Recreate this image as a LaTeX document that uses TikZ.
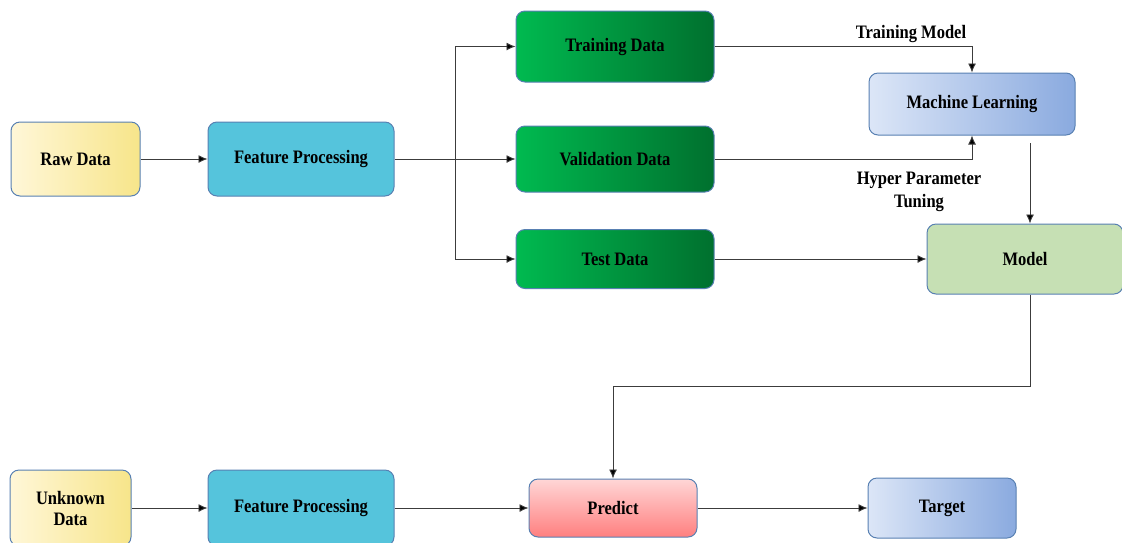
\documentclass[tikz,border=0pt]{standalone}
\usepackage{fontspec}
\setmainfont{Liberation Serif}[FakeStretch=0.87]
\usepackage{xcolor}
\usetikzlibrary{arrows.meta}

\definecolor{edgeblue}{RGB}{88,128,178}
\definecolor{linegray}{RGB}{60,60,60}
\definecolor{rawlight}{RGB}{255,247,216}
\definecolor{rawdark}{RGB}{247,229,138}
\definecolor{featcyan}{RGB}{85,196,220}
\definecolor{greenlight}{RGB}{0,186,80}
\definecolor{greendark}{RGB}{0,112,46}
\definecolor{mllight}{RGB}{220,230,247}
\definecolor{mldark}{RGB}{138,170,223}
\definecolor{modelgreen}{RGB}{198,224,180}
\definecolor{predlight}{RGB}{255,214,214}
\definecolor{preddark}{RGB}{255,127,127}

\tikzset{
  box/.style={draw=edgeblue, line width=1pt, rounded corners=9pt, inner sep=2pt,
    align=center, font=\bfseries\fontsize{19}{21}\selectfont},
  rawbox/.style={box, left color=rawlight, right color=rawdark},
  featbox/.style={box, fill=featcyan},
  databox/.style={box, left color=greenlight, right color=greendark},
  mlbox/.style={box, left color=mllight, right color=mldark},
  flow/.style={draw=linegray, line width=0.9pt, -{Latex[length=9pt,width=8pt,fill=black]}},
  note/.style={align=center, font=\bfseries\fontsize{19}{23}\selectfont}
}

\begin{document}
\begin{tikzpicture}[x=1pt,y=-1pt]
\useasboundingbox (0,0) rectangle (1122,542);
\clip (0,0) rectangle (1122,542);

% first row
\node[rawbox, minimum width=129pt, minimum height=74pt] (raw) at (75.5,159) {Raw Data};
\node[featbox, minimum width=186pt, minimum height=74pt] (feat) at (301,159) {Feature Processing};

% data split
\node[databox, minimum width=198pt, minimum height=71pt] (train) at (615,46.5) {Training Data};
\node[databox, minimum width=198pt, minimum height=66pt] (valid) at (615,159) {Validation Data};
\node[databox, minimum width=198pt, minimum height=59pt] (test) at (615,259) {Test Data};

% learning
\node[mlbox, minimum width=206pt, minimum height=62pt] (ml) at (972,104) {Machine Learning};
\node[box, fill=modelgreen, minimum width=196pt, minimum height=70pt] (model) at (1025,259) {Model};
\node[note] (trainlbl) at (911,34) {Training Model};
\node[note] (tunelbl) at (919,192) {Hyper Parameter\\Tuning};

% second row
\node[rawbox, minimum width=121pt, minimum height=76pt] (unknown) at (70.5,508) {Unknown\\Data};
\node[featbox, minimum width=186pt, minimum height=76pt] (feat2) at (301,508) {Feature Processing};
\node[box, top color=predlight, bottom color=preddark, minimum width=168pt, minimum height=58pt] (predict) at (613,508) {Predict};
\node[mlbox, minimum width=148pt, minimum height=60pt] (target) at (942,508) {Target};

\coordinate (split) at (455,159);
\coordinate (mlout) at (1030,143);
\coordinate (turn) at (1030,386);

\draw[flow] (raw) -- (feat);
\draw[flow] (feat) -- (valid);
\draw[flow] (split) |- (train.west);
\draw[flow] (split) |- (test.west);
\draw[flow] (train.east) -| (ml.north);
\draw[flow] (valid.east) -| (ml.south);
\draw[flow] (mlout) -- (mlout |- model.north);
\draw[flow] (test) -- (model);
\draw[flow] (turn |- model.south) -- (turn) -| (predict.north);

\draw[flow] (unknown) -- (feat2);
\draw[flow] (feat2) -- (predict);
\draw[flow] (predict) -- (target);
\end{tikzpicture}
\end{document}
